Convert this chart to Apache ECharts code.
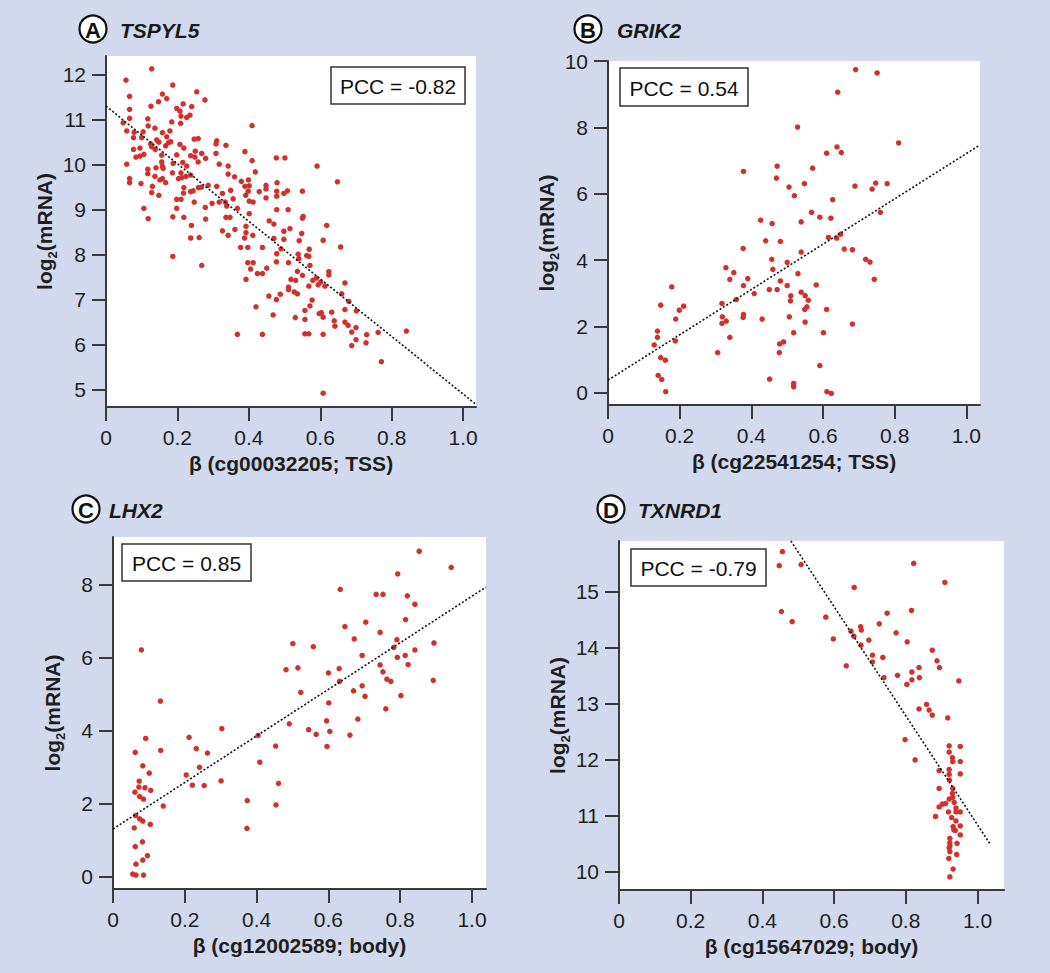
<!DOCTYPE html>
<html><head><meta charset="utf-8">
<script src="https://cdn.jsdelivr.net/npm/echarts@6/dist/echarts.min.js"></script>
<style>html,body{margin:0;padding:0;background:#d2d9ec;}#c{width:1050px;height:973px;}</style>
</head><body><div id="c"></div>
<script>
// ---------- data ----------
const panelLetters = ['A', 'B', 'C', 'D'];
const geneNames = ['TSPYL5', 'GRIK2', 'LHX2', 'TXNRD1'];
const xTitles = ['β (cg00032205; TSS)', 'β (cg22541254; TSS)', 'β (cg12002589; body)', 'β (cg15647029; body)'];
const pccLabels = ['PCC = -0.82', 'PCC = 0.54', 'PCC = 0.85', 'PCC = -0.79'];
const xTicks = [0, 0.2, 0.4, 0.6, 0.8, 1.0];
const xTickLabels = ['0', '0.2', '0.4', '0.6', '0.8', '1.0'];
const yTicksA = [5, 6, 7, 8, 9, 10, 11, 12];
const yTicksB = [0, 2, 4, 6, 8, 10];
const yTicksC = [0, 2, 4, 6, 8];
const yTicksD = [10, 11, 12, 13, 14, 15];
const xRangeA = [0, 1.036], yRangeA = [4.613, 12.416];
const xRangeB = [0, 1.038], yRangeB = [-0.37, 10];
const xRangeC = [0, 1.039], yRangeC = [-0.33, 9.30];
const xRangeD = [0, 1.074], yRangeD = [9.666, 15.90];

const fitA = [[0, 11.30], [1.036, 4.67]];
const fitB = [[0, 0.38], [1.035, 7.45]];
const fitC = [[0, 1.31], [1.039, 7.93]];
const fitD = [[0.4795, 15.90], [1.034, 10.50]];

const pointsA = [
[0.128,12.13],[0.056,11.88],[0.187,11.77],[0.254,11.62],[0.158,11.57],[0.066,11.52],[0.170,11.47],[0.277,11.44],
[0.147,11.40],[0.216,11.35],[0.126,11.30],[0.240,11.29],[0.198,11.25],[0.066,11.23],[0.207,11.19],[0.235,11.10],
[0.210,11.08],[0.226,11.05],[0.066,11.03],[0.117,11.02],[0.048,10.93],[0.209,10.92],[0.184,10.95],[0.409,10.87],
[0.118,10.86],[0.137,10.81],[0.179,10.75],[0.058,10.75],[0.104,10.73],[0.158,10.71],[0.079,10.72],[0.077,10.60],
[0.100,10.60],[0.170,10.62],[0.247,10.57],[0.258,10.58],[0.310,10.53],[0.142,10.55],[0.148,10.50],[0.175,10.49],
[0.181,10.51],[0.125,10.46],[0.308,10.46],[0.207,10.45],[0.336,10.43],[0.167,10.42],[0.077,10.34],[0.095,10.37],
[0.128,10.40],[0.138,10.34],[0.218,10.37],[0.389,10.29],[0.250,10.30],[0.308,10.25],[0.268,10.25],[0.156,10.21],
[0.198,10.22],[0.084,10.17],[0.095,10.19],[0.106,10.23],[0.237,10.20],[0.249,10.17],[0.279,10.14],[0.477,10.15],
[0.501,10.15],[0.058,10.01],[0.156,10.06],[0.188,10.03],[0.215,10.05],[0.258,10.06],[0.409,10.09],[0.591,9.97],
[0.317,10.01],[0.342,9.97],[0.158,9.97],[0.226,9.97],[0.117,9.90],[0.140,9.93],[0.160,9.92],[0.186,9.82],
[0.210,9.82],[0.418,9.84],[0.117,9.80],[0.137,9.74],[0.342,9.79],[0.224,9.74],[0.237,9.77],[0.360,9.73],
[0.066,9.69],[0.151,9.66],[0.158,9.69],[0.203,9.69],[0.212,9.71],[0.167,9.60],[0.066,9.60],[0.098,9.58],
[0.379,9.63],[0.648,9.62],[0.399,9.66],[0.448,9.54],[0.479,9.60],[0.286,9.54],[0.389,9.52],[0.310,9.52],
[0.130,9.52],[0.218,9.49],[0.259,9.49],[0.267,9.50],[0.401,9.53],[0.478,9.41],[0.508,9.42],[0.550,9.41],
[0.498,9.36],[0.429,9.40],[0.448,9.46],[0.349,9.43],[0.237,9.40],[0.244,9.42],[0.128,9.38],[0.217,9.37],
[0.398,9.41],[0.326,9.36],[0.391,9.32],[0.148,9.32],[0.478,9.30],[0.448,9.26],[0.356,9.24],[0.198,9.23],
[0.210,9.23],[0.297,9.14],[0.247,9.17],[0.317,9.17],[0.334,9.17],[0.401,9.19],[0.412,9.17],[0.338,9.08],
[0.106,9.03],[0.198,9.03],[0.278,9.05],[0.368,9.03],[0.478,9.00],[0.510,9.00],[0.401,8.91],[0.552,8.85],
[0.550,8.81],[0.336,8.83],[0.347,8.83],[0.187,8.84],[0.218,8.83],[0.118,8.80],[0.279,8.79],[0.457,8.75],
[0.470,8.68],[0.618,8.65],[0.392,8.63],[0.515,8.58],[0.239,8.65],[0.361,8.56],[0.498,8.52],[0.326,8.53],
[0.392,8.49],[0.548,8.47],[0.342,8.43],[0.411,8.43],[0.237,8.37],[0.261,8.38],[0.388,8.37],[0.498,8.34],
[0.470,8.36],[0.608,8.32],[0.541,8.31],[0.397,8.16],[0.377,8.16],[0.438,8.16],[0.657,8.17],[0.490,8.13],
[0.569,8.12],[0.187,7.96],[0.478,8.02],[0.538,8.01],[0.562,7.98],[0.568,7.96],[0.540,7.91],[0.477,7.84],
[0.397,7.82],[0.412,7.82],[0.511,7.82],[0.571,7.76],[0.268,7.76],[0.405,7.68],[0.450,7.70],[0.424,7.58],
[0.438,7.58],[0.624,7.62],[0.624,7.55],[0.550,7.54],[0.536,7.63],[0.392,7.45],[0.518,7.45],[0.531,7.43],
[0.589,7.48],[0.579,7.43],[0.601,7.39],[0.669,7.37],[0.594,7.33],[0.568,7.30],[0.613,7.30],[0.511,7.28],
[0.511,7.22],[0.527,7.17],[0.536,7.13],[0.488,7.12],[0.456,7.08],[0.660,7.13],[0.477,7.00],[0.577,6.99],
[0.680,6.96],[0.571,6.86],[0.420,6.84],[0.669,6.78],[0.701,6.75],[0.632,6.72],[0.557,6.76],[0.597,6.69],
[0.603,6.71],[0.608,6.61],[0.468,6.66],[0.530,6.60],[0.557,6.56],[0.639,6.53],[0.669,6.50],[0.678,6.43],
[0.641,6.41],[0.700,6.38],[0.688,6.28],[0.762,6.27],[0.841,6.30],[0.368,6.23],[0.438,6.23],[0.557,6.24],
[0.568,6.24],[0.608,6.23],[0.730,6.22],[0.700,6.11],[0.728,6.04],[0.688,5.98],[0.771,5.62],[0.608,4.92]
];

const pointsB = [
[0.691,9.74],[0.751,9.64],[0.641,9.06],[0.529,8.01],[0.811,7.53],[0.639,7.41],[0.651,7.24],[0.610,7.22],
[0.472,6.83],[0.571,6.77],[0.378,6.67],[0.470,6.47],[0.548,6.30],[0.747,6.32],[0.779,6.30],[0.689,6.23],
[0.505,6.20],[0.737,6.14],[0.520,5.94],[0.627,5.82],[0.568,5.44],[0.760,5.44],[0.591,5.29],[0.622,5.26],
[0.426,5.20],[0.539,5.15],[0.458,5.10],[0.615,4.68],[0.649,4.78],[0.638,4.66],[0.440,4.58],[0.481,4.56],
[0.377,4.35],[0.659,4.33],[0.682,4.31],[0.539,4.24],[0.457,4.02],[0.719,4.02],[0.731,3.94],[0.500,3.93],
[0.329,3.77],[0.460,3.72],[0.351,3.62],[0.530,3.59],[0.340,3.42],[0.390,3.44],[0.743,3.42],[0.481,3.37],
[0.178,3.19],[0.378,3.23],[0.500,3.23],[0.581,3.25],[0.450,3.11],[0.472,3.11],[0.408,2.99],[0.539,3.03],
[0.510,2.92],[0.550,2.93],[0.358,2.81],[0.559,2.79],[0.509,2.77],[0.318,2.69],[0.147,2.64],[0.211,2.61],
[0.555,2.59],[0.199,2.49],[0.610,2.51],[0.549,2.51],[0.378,2.36],[0.319,2.29],[0.377,2.27],[0.506,2.29],
[0.189,2.22],[0.430,2.22],[0.330,2.16],[0.550,2.13],[0.318,2.09],[0.682,2.07],[0.138,1.86],[0.518,1.81],
[0.601,1.81],[0.138,1.67],[0.340,1.67],[0.188,1.56],[0.490,1.53],[0.479,1.47],[0.129,1.44],[0.306,1.21],
[0.478,1.21],[0.147,1.06],[0.160,0.98],[0.591,0.82],[0.140,0.52],[0.150,0.40],[0.451,0.41],[0.518,0.28],
[0.518,0.18],[0.161,0.03],[0.611,0.03],[0.623,-0.02]
];

const pointsC = [
[0.853,8.91],[0.942,8.47],[0.793,8.29],[0.633,7.87],[0.733,7.73],[0.752,7.73],[0.820,7.69],[0.841,7.46],
[0.815,7.04],[0.704,6.97],[0.646,6.85],[0.744,6.69],[0.672,6.51],[0.791,6.49],[0.501,6.38],[0.894,6.40],
[0.558,6.30],[0.079,6.21],[0.782,6.28],[0.841,6.21],[0.694,6.06],[0.792,6.01],[0.814,6.06],[0.744,5.80],
[0.822,5.81],[0.515,5.72],[0.482,5.67],[0.630,5.70],[0.752,5.61],[0.600,5.58],[0.763,5.41],[0.774,5.35],
[0.631,5.35],[0.892,5.38],[0.694,5.23],[0.523,5.05],[0.670,5.09],[0.702,4.94],[0.802,4.96],[0.601,4.76],
[0.132,4.81],[0.760,4.60],[0.682,4.32],[0.595,4.27],[0.491,4.19],[0.545,4.03],[0.604,3.98],[0.303,4.06],
[0.566,3.90],[0.660,3.88],[0.404,3.87],[0.212,3.82],[0.091,3.79],[0.596,3.57],[0.453,3.58],[0.232,3.51],
[0.133,3.46],[0.062,3.41],[0.263,3.39],[0.409,3.14],[0.083,3.04],[0.241,3.00],[0.101,2.84],[0.204,2.79],
[0.301,2.63],[0.461,2.56],[0.073,2.62],[0.221,2.51],[0.254,2.50],[0.072,2.46],[0.089,2.44],[0.105,2.37],
[0.061,2.32],[0.074,2.20],[0.085,2.13],[0.374,2.09],[0.454,1.97],[0.140,1.94],[0.063,1.68],[0.074,1.59],
[0.083,1.53],[0.104,1.44],[0.059,1.34],[0.373,1.33],[0.082,0.96],[0.062,0.83],[0.096,0.58],[0.083,0.46],
[0.064,0.35],[0.055,0.08],[0.064,0.05],[0.085,0.05]
];

const pointsD = [
[0.456,15.71],[0.447,15.46],[0.508,15.48],[0.822,15.50],[0.909,15.16],[0.656,15.07],[0.453,14.64],[0.816,14.66],
[0.748,14.61],[0.577,14.54],[0.483,14.46],[0.726,14.42],[0.674,14.37],[0.676,14.31],[0.647,14.29],[0.773,14.26],
[0.655,14.20],[0.598,14.15],[0.697,14.13],[0.804,14.10],[0.675,14.04],[0.874,13.95],[0.707,13.86],[0.887,13.76],
[0.736,13.82],[0.707,13.74],[0.894,13.64],[0.837,13.64],[0.634,13.67],[0.817,13.56],[0.777,13.50],[0.739,13.46],
[0.838,13.46],[0.817,13.42],[0.948,13.40],[0.803,13.34],[0.858,12.98],[0.837,12.90],[0.865,12.88],[0.874,12.79],
[0.917,12.74],[0.798,12.35],[0.921,12.24],[0.952,12.23],[0.921,12.13],[0.930,12.03],[0.826,11.99],[0.931,11.96],
[0.952,11.96],[0.921,11.82],[0.893,11.80],[0.921,11.73],[0.952,11.74],[0.922,11.63],[0.931,11.48],[0.893,11.48],
[0.930,11.39],[0.931,11.32],[0.921,11.29],[0.902,11.20],[0.911,11.21],[0.935,11.23],[0.893,11.15],[0.940,11.13],
[0.952,11.06],[0.919,11.06],[0.940,11.06],[0.883,10.98],[0.928,10.96],[0.940,10.90],[0.952,10.81],[0.932,10.80],
[0.934,10.74],[0.938,10.73],[0.952,10.65],[0.923,10.59],[0.923,10.51],[0.943,10.50],[0.923,10.45],[0.921,10.42],
[0.923,10.35],[0.942,10.30],[0.920,10.23],[0.932,10.04],[0.923,9.90]
];

// ---------- layout ----------
const panels = [
  { grid: { left: 106, top: 56, width: 370, height: 351 }, x: xRangeA, y: yRangeA, yTicks: yTicksA, pts: pointsA, fit: fitA,
    circle: [93, 29], gene: 120, pcc: [331, 67, 134, 37] },
  { grid: { left: 608, top: 61, width: 372, height: 344 }, x: xRangeB, y: yRangeB, yTicks: yTicksB, pts: pointsB, fit: fitB,
    circle: [588, 29], gene: 617, pcc: [620, 68, 128, 38] },
  { grid: { left: 113, top: 537, width: 373, height: 352 }, x: xRangeC, y: yRangeC, yTicks: yTicksC, pts: pointsC, fit: fitC,
    circle: [86, 509], gene: 109, pcc: [122, 544, 129, 37] },
  { grid: { left: 619, top: 541, width: 385, height: 349 }, x: xRangeD, y: yRangeD, yTicks: yTicksD, pts: pointsD, fit: fitD,
    circle: [611, 509], gene: 638, pcc: [631, 549, 135, 37] }
];

const FONT = '"Liberation Sans", Arial, Helvetica, sans-serif';
const AXIS_COLOR = '#3a3a3a';
const TEXT_COLOR = '#1e1e1e';
const DOT_COLOR = '#d2302c';

const grids = [], xAxes = [], yAxes = [], series = [], graphics = [];
panels.forEach((p, i) => {
  grids.push(Object.assign({ show: true, backgroundColor: '#ffffff', borderWidth: 0 }, p.grid));
  xAxes.push({
    type: 'value', gridIndex: i, min: p.x[0], max: p.x[1],
    name: xTitles[i], nameLocation: 'middle', nameGap: 46,
    nameTextStyle: { fontFamily: FONT, fontSize: 21, fontWeight: 'bold', color: TEXT_COLOR },
    axisLine: { show: true, onZero: false, lineStyle: { color: AXIS_COLOR, width: 2 } },
    axisTick: { show: true, inside: false, length: 14, customValues: xTicks, lineStyle: { color: AXIS_COLOR, width: 2 } },
    axisLabel: { show: true, margin: 20, customValues: xTicks, fontFamily: FONT, fontSize: 21, color: TEXT_COLOR,
      formatter: v => { const k = xTicks.findIndex(t => Math.abs(t - v) < 1e-6); return k >= 0 ? xTickLabels[k] : ''; } },
    splitLine: { show: false }
  });
  yAxes.push({
    type: 'value', gridIndex: i, min: p.y[0], max: p.y[1],
    name: '{n|log}{s|2}{n|(mRNA)}', nameLocation: 'middle', nameGap: 50, nameRotate: 90,
    nameTextStyle: { fontFamily: FONT, fontSize: 21, fontWeight: 'bold', color: TEXT_COLOR,
      rich: { n: { fontFamily: FONT, fontSize: 21, fontWeight: 'bold', color: TEXT_COLOR, lineHeight: 24, verticalAlign: 'bottom' },
              s: { fontFamily: FONT, fontSize: 13, fontWeight: 'bold', color: TEXT_COLOR, lineHeight: 24, verticalAlign: 'bottom', padding: [0, 0, -4, 0] } } },
    axisLine: { show: true, onZero: false, lineStyle: { color: AXIS_COLOR, width: 2 } },
    axisTick: { show: true, inside: false, length: 14, customValues: p.yTicks, lineStyle: { color: AXIS_COLOR, width: 2 } },
    axisLabel: { show: true, margin: 20, customValues: p.yTicks, fontFamily: FONT, fontSize: 21, color: TEXT_COLOR,
      formatter: v => String(Math.round(v)) },
    splitLine: { show: false }
  });
  series.push({
    type: 'scatter', xAxisIndex: i, yAxisIndex: i, data: p.pts, symbol: 'circle', symbolSize: 5.5,
    itemStyle: { color: DOT_COLOR, opacity: 1 }, silent: true, z: 2
  });
  series.push({
    type: 'line', xAxisIndex: i, yAxisIndex: i, data: p.fit, symbol: 'none', silent: true, z: 3,
    lineStyle: { color: '#111111', width: 1.6, type: [2, 2] }
  });
  // panel label
  graphics.push({ type: 'circle', shape: { cx: p.circle[0], cy: p.circle[1], r: 13.5 },
    style: { fill: '#ffffff', stroke: '#111111', lineWidth: 2.2 } });
  graphics.push({ type: 'text', x: p.circle[0], y: p.circle[1] + 1,
    style: { text: panelLetters[i], font: 'bold 22px ' + FONT, fill: '#111111', align: 'center', verticalAlign: 'middle' } });
  graphics.push({ type: 'text', x: p.gene, y: p.circle[1] + 1,
    style: { text: geneNames[i], font: 'italic bold 21px ' + FONT, fill: '#1a1a1a', align: 'left', verticalAlign: 'middle' } });
  // PCC box
  const b = p.pcc;
  graphics.push({ type: 'rect', shape: { x: b[0], y: b[1], width: b[2], height: b[3] },
    style: { fill: '#ffffff', stroke: '#333333', lineWidth: 1.5 }, z: 10 });
  graphics.push({ type: 'text', x: b[0] + b[2] / 2, y: b[1] + b[3] / 2 + 1, z: 11,
    style: { text: pccLabels[i], font: '21px ' + FONT, fill: '#111111', align: 'center', verticalAlign: 'middle' } });
});

const chart = echarts.init(document.getElementById('c'), null, { renderer: 'svg', width: 1050, height: 973 });
chart.setOption({
  backgroundColor: '#d2d9ec',
  animation: false,
  grid: grids, xAxis: xAxes, yAxis: yAxes, series: series,
  graphic: { elements: graphics }
});
</script>
</body></html>
